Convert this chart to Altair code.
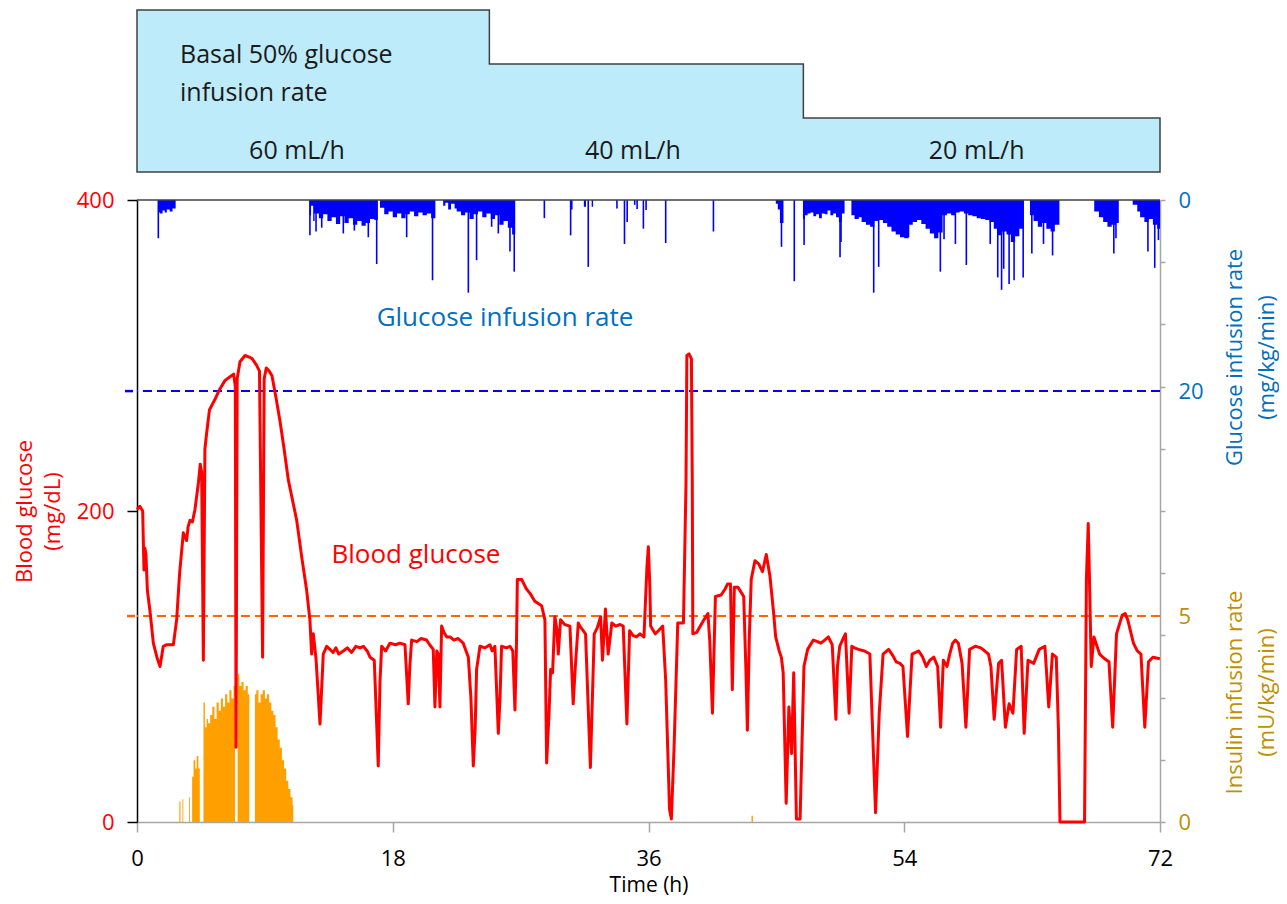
import altair as alt
import pandas as pd

# ---------------- data ----------------
# Blood glucose trace (mg/dL) vs time (h)
BG_T = [0.0, 0.2, 0.4, 0.49, 0.56, 0.63, 0.73, 0.91, 1.15, 1.4, 1.62, 1.85, 2.1, 2.56, 2.79, 3.0,
        3.26, 3.49, 3.6, 3.73, 3.9, 4.08, 4.32, 4.45, 4.55, 4.67, 4.78, 4.9, 5.1, 5.5, 5.8, 6.2,
        6.5, 6.8, 6.92, 6.97, 7.05, 7.25, 7.6, 7.9, 8.1, 8.4, 8.62, 8.84, 8.95, 9.1, 9.3, 9.5,
        9.8, 10.06, 10.35, 10.65, 11.24, 11.6, 11.94, 12.17, 12.29, 12.41, 12.6, 12.88, 13.11,
        13.35, 13.58, 13.8, 14.0, 14.2, 14.52, 14.8, 15.1, 15.4, 15.7, 15.93, 16.2, 16.4, 16.7,
        16.98, 17.1, 17.22, 17.5, 17.8, 18.2, 18.5, 18.86, 19.09, 19.2, 19.33, 19.7, 20.0, 20.38,
        20.6, 20.85, 20.97, 21.1, 21.2, 21.32, 21.44, 21.6, 21.8, 22.03, 22.3, 22.6, 22.96, 23.32,
        23.5, 23.67, 23.8, 23.9, 24.14, 24.5, 24.84, 25.0, 25.19, 25.43, 25.55, 25.66, 26.0, 26.25,
        26.45, 26.6, 26.7, 26.77, 27.07, 27.4, 27.66, 28.0, 28.48, 28.71, 28.83, 29.0, 29.11, 29.25,
        29.41, 29.55, 29.65, 29.81, 30.1, 30.47, 30.7, 30.85, 31.06, 31.17, 31.57, 31.91, 32.18,
        32.4, 32.63, 32.76, 32.97, 33.16, 33.42, 33.69, 34.0, 34.22, 34.48, 34.67, 34.9, 35.15,
        35.4, 35.68, 35.89, 35.99, 36.1, 36.15, 36.47, 36.7, 37.0, 37.21, 37.48, 37.61, 37.8,
        38.06, 38.46, 38.64, 38.7, 38.85, 39.02, 39.08, 39.12, 39.4, 39.65, 39.9, 40.18, 40.31,
        40.5, 40.71, 41.11, 41.4, 41.56, 41.77, 41.9, 42.04, 42.3, 42.5, 42.7, 42.85, 42.96, 43.1,
        43.23, 43.49, 43.76, 44.02, 44.29, 44.55, 44.8, 44.95, 45.2, 45.35, 45.48, 45.69, 45.88,
        46.07, 46.22, 46.41, 46.67, 46.94, 47.2, 47.6, 47.9, 48.13, 48.4, 48.66, 48.93, 49.19,
        49.3, 49.46, 49.7, 49.86, 50.12, 50.31, 50.5, 50.78, 51.2, 51.58, 51.98, 52.24, 52.51,
        52.9, 53.2, 53.43, 53.7, 53.91, 54.23, 54.55, 55.02, 55.3, 55.55, 55.8, 56.08, 56.35,
        56.56, 56.75, 57.01, 57.2, 57.41, 57.6, 57.81, 58.07, 58.34, 58.6, 59.0, 59.4, 59.93,
        60.1, 60.33, 60.64, 60.85, 61.12, 61.38, 61.65, 61.91, 62.23, 62.44, 62.71, 63.11, 63.5,
        63.9, 64.17, 64.43, 64.7, 64.85, 64.96, 66.69, 66.82, 66.95, 67.05, 67.16, 67.35, 67.75,
        68.1, 68.41, 68.67, 68.94, 69.34, 69.55, 69.73, 70.13, 70.4, 70.66, 70.93, 71.19, 71.5,
        71.99]
BG_V = [201, 203, 200, 162, 176, 172, 149, 136, 115, 106, 100, 113, 114, 114, 130, 160,
        186, 181, 190, 194, 193, 201, 218, 230, 225, 104, 240, 250, 265, 272, 278, 284,
        286, 288, 280, 48, 285, 296, 300, 299, 298, 294, 290, 106, 285, 292, 290, 287,
        272, 258, 240, 220, 194, 170, 149, 130, 108, 121, 105, 63, 108,
        113, 111, 109, 112, 108, 110, 112, 109, 113, 112, 113, 110, 106, 104,
        36, 90, 113, 110, 115, 114, 115, 114, 76, 100, 117, 116, 118, 117,
        114, 111, 74, 110, 108, 74, 126, 122, 119, 119, 117, 118, 115, 106,
        80, 36, 60, 98, 113, 112, 114, 110, 113, 57, 80, 113, 112, 113,
        110, 72, 110, 156, 156, 150, 147, 142, 139, 130, 38, 70, 98, 96,
        132, 124, 108, 130, 127, 126, 76, 100, 128, 126, 121, 35, 121,
        125, 132, 104, 137, 108, 128, 126, 127, 126, 63, 123, 120, 119,
        121, 119, 164, 177, 150, 126, 121, 123, 126, 91, 8, 2, 48,
        128, 128, 218, 300, 301, 298, 220, 121, 122, 126, 130, 134, 117,
        70, 145, 146, 150, 153, 153, 85, 151, 151, 148, 145, 100, 59, 120,
        156, 168, 166, 161, 172, 158, 135, 119, 110, 106, 96, 12, 74,
        44, 96, 2, 2, 100, 111, 117, 116, 115, 117, 119, 114, 66,
        100, 113, 118, 121, 70, 113, 112, 111, 110, 108, 6, 70, 108,
        111, 107, 103, 102, 100, 55, 108, 110, 106, 100, 104, 106, 100,
        61, 104, 100, 108, 115, 117, 115, 102, 61, 111, 113, 112, 108,
        100, 66, 102, 104, 61, 76, 70, 111, 113, 57, 104, 102, 111,
        113, 74, 108, 106, 60, 0, 0, 156, 192, 150, 100, 119, 108,
        105, 103, 61, 121, 133, 134, 130, 115, 110, 108, 61, 103, 106,
        105]

# Glucose infusion rate (mg/kg/min): envelope of the dense bar clusters
GIR_T = [0.0, 1.48, 1.62, 1.8, 1.95, 2.1, 2.3, 2.5, 2.72,
         12.15, 12.25, 12.4, 12.5, 12.8, 13.1, 13.4, 13.7, 14.0, 14.3, 14.6, 14.9, 15.2, 15.5, 15.8,
         16.1, 16.4, 16.7, 16.95, 17.1, 17.4, 17.7, 18.0, 18.3, 18.6, 18.9, 19.2, 19.5, 19.8, 20.1,
         20.4, 20.7, 21.0, 21.55, 21.7, 21.9, 22.1, 22.35, 22.5, 22.8, 23.1, 23.4, 23.7, 24.0, 24.3,
         24.6, 24.9, 25.2, 25.5, 25.8, 26.1, 26.4, 26.62,
         31.45, 31.6, 32.0, 32.1,
         44.96, 45.1, 45.25, 45.5,
         46.87, 47.0, 47.2, 47.4, 47.6, 47.8, 48.0, 48.2, 48.4, 48.6, 48.8, 49.0, 49.2, 49.4, 49.6, 49.8,
         50.28, 50.5, 50.8, 51.0, 51.3, 51.6, 51.9, 52.2, 52.5, 52.8, 53.1, 53.4, 53.7, 54.0, 54.3,
         54.6, 54.9, 55.2, 55.5, 55.8, 56.1, 56.4, 56.7, 57.0, 57.3, 57.6, 57.9, 58.2, 58.5, 58.8,
         59.1, 59.4, 59.7, 60.0, 60.3, 60.6, 60.9, 61.2, 61.5, 61.8, 62.1, 62.4, 62.85, 63.1, 63.4,
         63.7, 64.0, 64.3, 64.6, 64.92,
         67.37, 67.7, 68.0, 68.3, 68.6, 68.9, 69.1,
         70.08, 70.4, 70.6, 70.9, 71.2, 71.5, 71.8, 72.0]
GIR_V = [0, 1.3, 1.4, 1.1, 1.3, 1.0, 1.2, 0.9, 0,
         1.6, 0.6, 2.2, 1.4, 1.9, 1.5, 2.2, 1.8, 2.5, 1.7, 2.4, 1.9, 2.6, 2.2, 2.7,
         2.4, 2.0, 2.1, 0, 0.8, 1.5, 1.2, 1.8, 1.4, 1.9, 1.5, 1.2, 1.7, 1.3, 1.6,
         1.4, 1.9, 0, 0.6, 0.3, 1.0, 0.4, 0.9, 1.2, 1.6, 1.3, 2.0, 1.5, 1.2, 1.8,
         1.4, 2.0, 1.6, 2.6, 2.2, 2.9, 3.6, 0,
         0.7, 0, 0.7, 0,
         0.4, 1.0, 2.4, 0,
         2.0, 1.6, 1.4, 1.3, 1.7, 1.5, 1.9, 1.4, 1.5, 1.1, 1.6, 1.4, 1.8, 2.3, 1.4, 0,
         1.6, 2.0, 1.8, 2.3, 2.6, 2.8, 2.2, 2.1, 2.4, 2.8, 3.3, 3.6, 3.9, 4.0, 2.6,
         2.3, 2.1, 2.5, 3.0, 3.5, 4.0, 3.4, 1.6, 1.4, 1.6, 1.3, 1.2, 1.4, 1.6, 1.7,
         1.9, 2.0, 2.1, 2.3, 3.0, 3.7, 3.3, 3.6, 4.4, 3.8, 3.0, 0, 1.6, 2.2, 2.8,
         2.4, 3.0, 3.3, 2.6, 0,
         1.2, 1.8, 2.3, 2.8, 2.6, 2.4, 0,
         0.5, 1.2, 1.8, 2.3, 2.0, 2.6, 3.0, 3.0]

# Glucose infusion rate: individual deep bars
GIR_SPIKE_T = [1.5, 12.17, 12.6, 13.0, 14.52, 15.3, 16.28, 16.87, 18.98, 20.8, 23.32, 23.9, 24.96,
               25.43, 26.25, 26.55, 28.67, 30.52, 30.6, 31.76, 33.78, 34.31, 34.5, 35.03, 35.2,
               35.64, 35.83, 37.21, 40.57, 45.36, 46.26, 46.95, 49.48, 49.55, 51.85, 52.2, 54.3,
               56.54, 56.8, 57.6, 58.37, 60.05, 60.58, 60.85, 61.0, 61.38, 61.73, 62.37, 62.98,
               63.8, 64.44, 68.75, 68.9, 71.15, 71.63, 71.89]
GIR_SPIKE_V = [4.0, 3.7, 3.3, 2.9, 3.5, 3.2, 3.9, 6.7, 3.9, 8.4, 9.7, 6.3, 2.8,
               3.5, 5.4, 7.5, 1.9, 3.7, 1.0, 7.0, 0.9, 4.6, 2.3, 0.5, 0.95,
               3.0, 1.05, 4.5, 3.3, 4.9, 8.5, 4.7, 6.0, 4.4, 9.7, 7.0, 3.9,
               7.5, 4.1, 4.6, 6.8, 4.6, 8.1, 9.4, 7.2, 8.8, 8.4, 8.1, 5.6,
               4.6, 5.8, 5.6, 4.0, 5.4, 7.1, 4.2]

# Insulin infusion rate (mU/kg/min)
INS_T = [2.98, 3.06, 3.2, 3.26, 3.66, 3.72, 3.88, 3.98, 4.1, 4.2, 4.32, 4.42, 4.68, 4.78, 4.9,
         5.0, 5.15, 5.3, 5.45, 5.6, 5.75, 5.9, 6.05, 6.2, 6.35, 6.5, 6.65, 6.8, 6.9, 7.08, 7.2,
         7.35, 7.5, 7.65, 7.8, 7.9, 8.3, 8.4, 8.55, 8.7, 8.85, 9.0, 9.15, 9.3, 9.45, 9.6, 9.75,
         9.9, 10.05, 10.2, 10.35, 10.5, 10.65, 10.8, 10.95, 11.0, 43.25, 43.35]
INS_V = [0.5, 0, 0.55, 0, 0.6, 0, 1.1, 1.5, 1.3, 1.6, 1.3, 0, 2.9, 2.3, 2.5,
         2.4, 2.6, 2.8, 2.5, 2.9, 2.7, 3.0, 2.8, 3.1, 2.9, 3.2, 3.0, 3.3, 0, 3.6, 3.3,
         3.4, 3.2, 3.3, 3.1, 0, 3.1, 3.2, 2.9, 3.1, 3.2, 3.0, 3.1, 2.9, 2.7, 2.6, 2.3,
         2.0, 1.8, 1.5, 1.3, 1.0, 0.8, 0.6, 0.4, 0, 0.15, 0]

# Basal 50% glucose infusion rate (mL/h), step changes
STEP_T = [0, 24.8, 46.9, 72]
STEP_RATE = [60, 40, 20, 20]
STEP_LABELS = ["60 mL/h", "40 mL/h", "20 mL/h"]

X_TICKS = [0, 18, 36, 54, 72]
BG_TICKS = [0, 200, 400]
GIR_TICKS = [0, 20]
INS_TICKS = [0, 5]
GIR_TARGET = 20
INS_TARGET = 5

FONT = "Open Sans"
RED = "#FF0000"
BLUE_BAR = "#0000FF"
BLUE_TXT = "#0070C0"
ORANGE_BAR = "#FFA000"
ORANGE_DASH = "#FF6600"
GOLD_TXT = "#BF9000"

# ---------------- scales & axes ----------------
xscale = alt.Scale(domain=[0, 72], nice=False, zero=False)
xaxis = alt.Axis(values=X_TICKS, title="Time (h)", labelFontSize=22, titleFontSize=21,
                 labelColor="#000000", titleColor="#000000", domainColor="#A6A6A6",
                 tickColor="#A6A6A6", tickSize=10, tickWidth=1.5, domainWidth=1.5,
                 labelPadding=16, labelFlush=False, labelOverlap=False, grid=False,
                 titleFontWeight="normal", titleY=69, titleBaseline="alphabetic")


def X():
    return alt.X("t:Q", scale=xscale, axis=xaxis)


step_scale = alt.Scale(domain=[0, 60], range=[162, 0], nice=False)
bg_scale = alt.Scale(domain=[0, 400], range=[812, 190], nice=False)
tk_scale = alt.Scale(domain=[0, 400], range=[812, 190], nice=False)
gir_scale = alt.Scale(domain=[0, 65.1], range=[190, 812], nice=False, zero=False)
ins_scale = alt.Scale(domain=[0, 15.1], range=[812, 190], nice=False, zero=False)

bg_axis = alt.Axis(orient="left", values=BG_TICKS, labelColor=RED, labelFontSize=22,
                   labelPadding=13, tickColor="#000000", tickSize=10, tickWidth=1.5,
                   domainColor="#000000", domainWidth=1.5, grid=False, labelOverlap=False,
                   title=["Blood glucose", "(mg/dL)"], titleColor=RED, titleFontSize=22,
                   titleFontWeight="normal", titleAngle=270, titleX=-123, titleY=501,
                   titleAlign="center", titleBaseline="top", titleLineHeight=28)
tk_axis = alt.Axis(orient="right", values=list(range(0, 401, 40)), labels=False,
                   tickColor="#A6A6A6", tickSize=5, tickWidth=1.5, domainColor="#A6A6A6",
                   domainWidth=1.5, grid=False, title=None)
gir_axis = alt.Axis(orient="right", values=GIR_TICKS, labelColor=BLUE_TXT, labelFontSize=22,
                    labelPadding=18, ticks=False, domain=False, grid=False, labelOverlap=False,
                    title=["Glucose infusion rate", "(mg/kg/min)"], titleColor=BLUE_TXT,
                    titleFontSize=22, titleFontWeight="normal", titleAngle=270, titleX=64,
                    titleY=347, titleAlign="center", titleBaseline="top", titleLineHeight=32)
ins_axis = alt.Axis(orient="right", values=INS_TICKS, labelColor=GOLD_TXT, labelFontSize=22,
                    labelPadding=18, ticks=False, domain=False, grid=False, labelOverlap=False,
                    title=["Insulin infusion rate", "(mU/kg/min)"], titleColor=GOLD_TXT,
                    titleFontSize=22, titleFontWeight="normal", titleAngle=270, titleX=64,
                    titleY=682, titleAlign="center", titleBaseline="top", titleLineHeight=32)

# ---------------- top panel ----------------
step_df = pd.DataFrame({"t": STEP_T, "rate": STEP_RATE})
step_area = alt.Chart(step_df).mark_area(
    interpolate="step-after", fill="#BDEBFA", stroke="#404040", strokeWidth=1.5
).encode(x=X(), y=alt.Y("rate:Q", scale=step_scale, axis=None))

basal_df = pd.DataFrame({"t": [3.03, 3.03], "rate": [40.4, 26.4],
                         "txt": ["Basal 50% glucose", "infusion rate"]})
basal_txt = alt.Chart(basal_df).mark_text(
    align="left", baseline="alphabetic", font=FONT, fontSize=25, color="#1A1A1A"
).encode(x=X(), y=alt.Y("rate:Q", scale=step_scale, axis=None), text="txt:N")

rate_df = pd.DataFrame({"t": [11.26, 34.9, 59.1], "rate": [4.8, 4.8, 4.8], "txt": STEP_LABELS})
rate_txt = alt.Chart(rate_df).mark_text(
    align="center", baseline="alphabetic", font=FONT, fontSize=25, color="#1A1A1A"
).encode(x=X(), y=alt.Y("rate:Q", scale=step_scale, axis=None), text="txt:N")

step_layer = alt.layer(step_area, basal_txt, rate_txt)

# ---------------- glucose infusion rate ----------------
def YG():
    return alt.Y("gir:Q", scale=gir_scale, axis=gir_axis)


gir_df = pd.DataFrame({"t": GIR_T, "gir": GIR_V})
gir_area = alt.Chart(gir_df).mark_area(interpolate="step-after", color=BLUE_BAR).encode(
    x=X(), y=YG(), y2=alt.datum(0))
spk_df = pd.DataFrame({"t": GIR_SPIKE_T, "gir": GIR_SPIKE_V})
gir_spk = alt.Chart(spk_df).mark_rule(color=BLUE_BAR, strokeWidth=1.6).encode(
    x=X(), y=YG(), y2=alt.datum(0))
gir_tgt = pd.DataFrame({"gir": [GIR_TARGET]})
gir_dash = alt.Chart(gir_tgt).mark_rule(color=BLUE_BAR, strokeWidth=2, strokeDash=[9, 5]).encode(
    y=YG())
gir_mark = alt.Chart(gir_tgt).mark_rule(color=BLUE_BAR, strokeWidth=2.5).encode(
    y=YG(), x=alt.value(-12), x2=alt.value(-4))
gir_layer = alt.layer(gir_area, gir_spk, gir_dash, gir_mark)

# ---------------- insulin ----------------
def YI():
    return alt.Y("ins:Q", scale=ins_scale, axis=ins_axis)


ins_df = pd.DataFrame({"t": INS_T, "ins": INS_V})
ins_area = alt.Chart(ins_df).mark_area(interpolate="step-after", color=ORANGE_BAR).encode(
    x=X(), y=YI(), y2=alt.datum(0))
ins_tgt = pd.DataFrame({"ins": [INS_TARGET]})
ins_dash = alt.Chart(ins_tgt).mark_rule(color=ORANGE_DASH, strokeWidth=2, strokeDash=[9, 5]).encode(
    y=YI())
ins_mark = alt.Chart(ins_tgt).mark_rule(color=ORANGE_DASH, strokeWidth=2.5).encode(
    y=YI(), x=alt.value(-10), x2=alt.value(-2))
ins_layer = alt.layer(ins_area, ins_dash, ins_mark)

# ---------------- right-hand tick axis ----------------
tk_df = pd.DataFrame({"t": [0], "tk": [0]})
tk_layer = alt.Chart(tk_df).mark_point(opacity=0).encode(
    x=X(), y=alt.Y("tk:Q", scale=tk_scale, axis=tk_axis))

# ---------------- blood glucose ----------------
def YB():
    return alt.Y("bg:Q", scale=bg_scale, axis=bg_axis)


bg_df = pd.DataFrame({"t": BG_T, "bg": BG_V})
bg_line = alt.Chart(bg_df).mark_line(color=RED, strokeWidth=3, strokeJoin="round").encode(
    x=X(), y=YB())
top_df = pd.DataFrame({"bg": [400]})
top_rule = alt.Chart(top_df).mark_rule(color="#404040", strokeWidth=1.5).encode(y=YB())
ann_gir = alt.Chart(pd.DataFrame({"t": [25.9], "bg": [319], "txt": ["Glucose infusion rate"]})).mark_text(
    align="center", baseline="alphabetic", font=FONT, fontSize=26, color=BLUE_TXT
).encode(x=X(), y=YB(), text="txt:N")
ann_bg = alt.Chart(pd.DataFrame({"t": [19.63], "bg": [166.6], "txt": ["Blood glucose"]})).mark_text(
    align="center", baseline="alphabetic", font=FONT, fontSize=26, color=RED
).encode(x=X(), y=YB(), text="txt:N")
bg_layer = alt.layer(top_rule, bg_line, ann_gir, ann_bg)

chart = alt.layer(step_layer, gir_layer, ins_layer, tk_layer, bg_layer).resolve_scale(
    y="independent"
).properties(
    width=1023, height=812,
    autosize=alt.AutoSizeParams(type="none"),
    padding={"left": 129, "top": 2, "right": 119, "bottom": 74},
).configure(font=FONT).configure_view(stroke=None).configure_axis(
    labelFont=FONT, titleFont=FONT)

chart.save("out.html", embed_options={"renderer": "svg", "actions": False})
